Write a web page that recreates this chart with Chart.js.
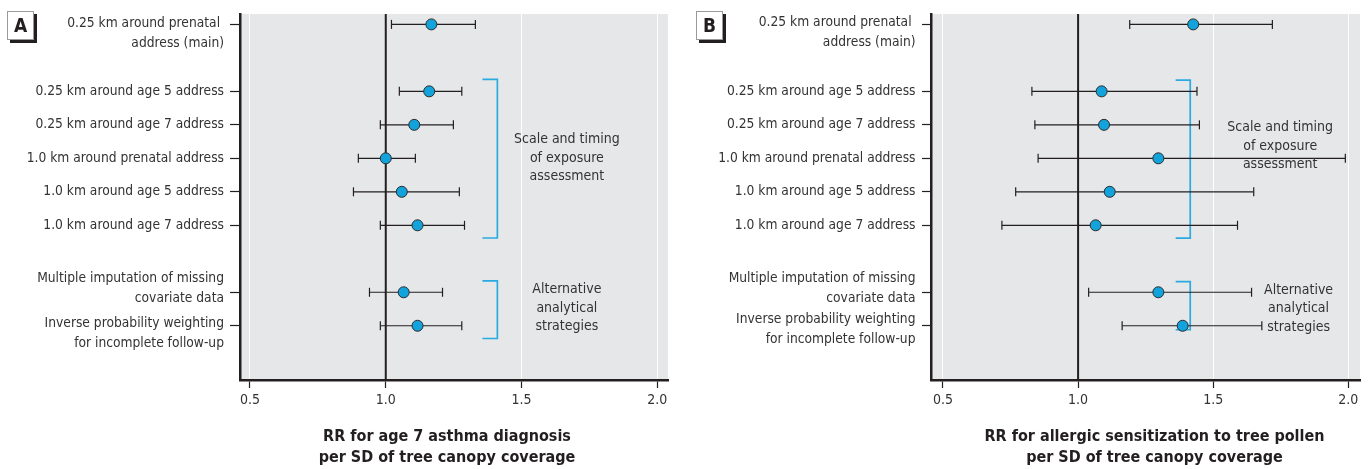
<!DOCTYPE html>
<html>
<head>
<meta charset="utf-8">
<script src="https://cdn.jsdelivr.net/npm/chart.js@4.4.0/dist/chart.umd.min.js"></script>
<style>
  body { margin: 0; background: #fff; width: 1370px; height: 469px; overflow: hidden; position: relative; }
  .panel { position: absolute; top: 0; width: 685px; height: 469px; }
  .tag {
    position: absolute; top: 11px; width: 25px; height: 27px;
    border: 1px solid #9a9a9a; box-shadow: 3px 3px 0 #231f20; background: #fff;
    font: bold 19px "DejaVu Sans Condensed", "Liberation Sans Narrow", sans-serif;
    text-align: center; line-height: 27px; color: #231f20;
  }
</style>
</head>
<body>
<div class="panel" style="left:0"><canvas id="chartA" width="685" height="469"></canvas></div>
<div class="panel" style="left:685px"><canvas id="chartB" width="685" height="469"></canvas></div>
<div class="tag" style="left:7px">A</div>
<div class="tag" style="left:696px">B</div>

<script>
const FONT = '"DejaVu Sans Condensed", "Liberation Sans Narrow", "DejaVu Sans", sans-serif';

// rows on the y axis (gaps between the groups)
const rowPos = [0, 2, 3, 4, 5, 6, 8, 9];
const categories = [
  ['0.25 km around prenatal ', 'address (main)'],
  ['0.25 km around age 5 address'],
  ['0.25 km around age 7 address'],
  ['1.0 km around prenatal address'],
  ['1.0 km around age 5 address'],
  ['1.0 km around age 7 address'],
  ['Multiple imputation of missing', 'covariate data'],
  ['Inverse probability weighting', 'for incomplete follow-up']
];

// panel A: asthma diagnosis
const rrA = [1.168, 1.160, 1.105, 1.000, 1.059, 1.117, 1.066, 1.117];
const loA = [1.021, 1.050, 0.980, 0.899, 0.881, 0.980, 0.940, 0.980];
const hiA = [1.330, 1.280, 1.249, 1.109, 1.271, 1.290, 1.209, 1.280];

// panel B: allergic sensitization to tree pollen
const rrB = [1.426, 1.087, 1.096, 1.297, 1.117, 1.065, 1.297, 1.387];
const loB = [1.191, 0.829, 0.840, 0.852, 0.769, 0.718, 1.039, 1.163];
const hiB = [1.719, 1.440, 1.449, 1.989, 1.650, 1.590, 1.642, 1.680];

const xTicks = [0.5, 1.0, 1.5, 2.0];
const groupNames = [
  ['Scale and timing', 'of exposure', 'assessment'],
  ['Alternative', 'analytical', 'strategies']
];
const titleA = ['RR for age 7 asthma diagnosis', 'per SD of tree canopy coverage'];
const titleB = ['RR for allergic sensitization to tree pollen', 'per SD of tree canopy coverage'];

function buildChart(id, cfg) {
  const yMin = -0.31, yMax = 10.62;
  const datasets = [];

  // estimates
  datasets.push({
    type: 'scatter',
    data: rowPos.map((r, i) => ({ x: cfg.rr[i], y: r })),
    pointRadius: 5.5,
    pointBackgroundColor: '#12a3dd',
    pointBorderColor: '#2b2b2b',
    pointBorderWidth: 1,
    order: 0
  });

  // confidence intervals
  rowPos.forEach((r, i) => {
    datasets.push({
      type: 'line',
      data: [{ x: cfg.lo[i], y: r }, { x: cfg.hi[i], y: r }],
      borderColor: '#231f20',
      borderWidth: 1.2,
      pointStyle: 'line',
      rotation: 90,
      pointRadius: 4.5,
      pointBorderColor: '#231f20',
      pointBorderWidth: 1.2,
      order: 1
    });
  });

  // null line at RR = 1
  datasets.push({
    type: 'line',
    data: [{ x: 1, y: yMin }, { x: 1, y: yMax }],
    borderColor: '#231f20',
    borderWidth: 2,
    pointRadius: 0,
    order: 3
  });

  // group brackets
  cfg.brackets.forEach(b => {
    datasets.push({
      type: 'line',
      data: [{ x: b.x0, y: b.y0 }, { x: b.x1, y: b.y0 }, { x: b.x1, y: b.y1 }, { x: b.x0, y: b.y1 }],
      borderColor: '#29abe2',
      borderWidth: 1.7,
      pointRadius: 0,
      order: 2
    });
  });

  const texts = {
    id: 'texts',
    beforeDraw(chart) {
      const { ctx, chartArea: a } = chart;
      ctx.save();
      ctx.fillStyle = '#e6e7e8';
      ctx.fillRect(a.left, a.top, a.right - a.left, a.bottom - a.top);
      ctx.restore();
    },
    afterDraw(chart) {
      const { ctx, scales: { x, y } } = chart;
      ctx.save();
      ctx.fillStyle = '#333';
      ctx.font = '13.7px ' + FONT;
      ctx.textAlign = 'right';
      ctx.textBaseline = 'middle';
      categories.forEach((lines, i) => {
        const py = y.getPixelForValue(rowPos[i]);
        lines.forEach((t, j) => ctx.fillText(t, cfg.labelRight, py + cfg.labelOffsets[i][j]));
      });
      ctx.font = '14px ' + FONT;
      ctx.textAlign = 'center';
      cfg.groups.forEach((g, k) => {
        const gx = x.getPixelForValue(g.x), gy = y.getPixelForValue(g.y);
        groupNames[k].forEach((t, j) => ctx.fillText(t, gx, gy + (j - 1) * 18.5));
      });
      ctx.fillStyle = '#231f20';
      ctx.font = 'bold 16px ' + FONT;
      cfg.title.forEach((t, j) => ctx.fillText(t, cfg.titleX, 437 + j * 20.5));
      ctx.restore();
    }
  };

  return new Chart(document.getElementById(id), {
    type: 'scatter',
    data: { datasets },
    plugins: [texts],
    options: {
      responsive: false,
      animation: false,
      devicePixelRatio: 1,
      layout: { padding: { left: 0, top: 14, right: 685 - cfg.right, bottom: 0 } },
      plugins: { legend: { display: false }, tooltip: { enabled: false } },
      scales: {
        x: {
          type: 'linear',
          min: cfg.xMin,
          max: cfg.xMax,
          afterBuildTicks: s => { s.ticks = xTicks.map(v => ({ value: v })); },
          afterFit: s => { s.height = 89; },
          grid: { color: '#ffffff', lineWidth: 1, drawTicks: true, tickLength: 8, tickColor: '#231f20', tickWidth: 1.2 },
          border: { display: true, color: '#231f20', width: 2.5 },
          ticks: {
            callback: v => v.toFixed(1),
            font: { family: FONT, size: 14 },
            color: '#333',
            padding: 4,
            maxRotation: 0,
            autoSkip: false
          }
        },
        y: {
          type: 'linear',
          reverse: true,
          min: yMin,
          max: yMax,
          afterBuildTicks: s => { s.ticks = rowPos.map(v => ({ value: v })); },
          afterFit: s => { s.width = cfg.left; },
          grid: { drawOnChartArea: false, drawTicks: true, tickLength: cfg.tickLen, tickColor: '#231f20', tickWidth: 1.2 },
          border: { display: true, color: '#231f20', width: 2.5 },
          ticks: { display: false }
        }
      }
    }
  });
}

buildChart('chartA', {
  rr: rrA, lo: loA, hi: hiA,
  left: 240, right: 668, xMin: 0.4632, xMax: 2.0394, tickLen: 10,
  labelRight: 224,
  labelOffsets: [[-1, 19], [0], [0], [0], [0], [0], [-13.7, 6.3], [-2.4, 17.6]],
  brackets: [{ x0: 1.356, x1: 1.411, y0: 1.64, y1: 6.38 }, { x0: 1.356, x1: 1.411, y0: 7.66, y1: 9.38 }],
  groups: [{ x: 1.667, y: 4.0 }, { x: 1.667, y: 8.48 }],
  title: titleA, titleX: 447
});

buildChart('chartB', {
  rr: rrB, lo: loB, hi: hiB,
  left: 246, right: 675, xMin: 0.4556, xMax: 2.0433, tickLen: 9,
  labelRight: 230.5,
  labelOffsets: [[-1.7, 18.3], [0], [0], [0], [0], [0], [-13.7, 6.3], [-6.3, 13.7]],
  brackets: [{ x0: 1.361, x1: 1.415, y0: 1.664, y1: 6.383 }, { x0: 1.361, x1: 1.415, y0: 7.685, y1: 9.119 }],
  groups: [{ x: 1.748, y: 3.635 }, { x: 1.816, y: 8.49 }],
  title: titleB, titleX: 469.5
});
</script>
</body>
</html>
